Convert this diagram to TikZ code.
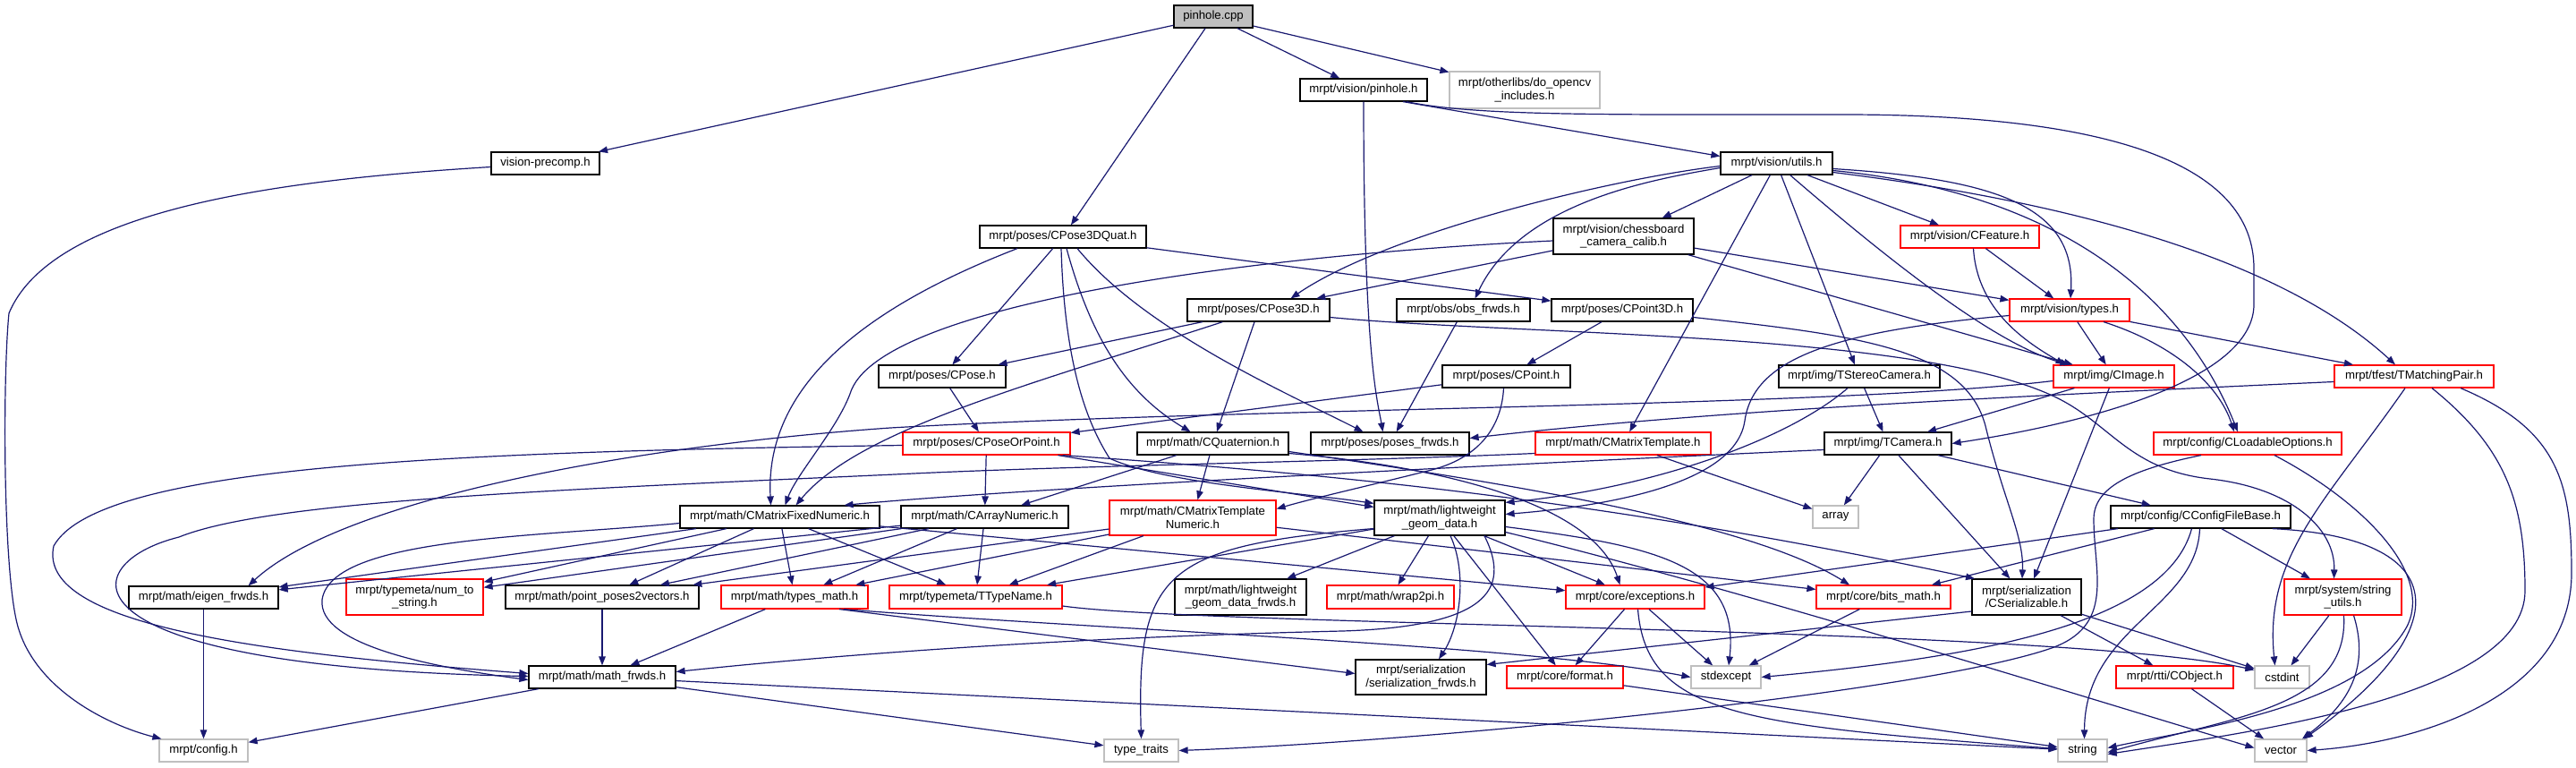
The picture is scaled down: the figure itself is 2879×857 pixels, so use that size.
\documentclass[tikz,border=0pt]{standalone}
\usepackage{fontspec}
\usetikzlibrary{arrows.meta}
\newfontfamily\dfont{Liberation Sans}
\definecolor{edgec}{HTML}{191970}
\definecolor{grayb}{HTML}{BFBFBF}
\definecolor{redb}{HTML}{FF0000}
\tikzset{
 nb/.style={draw=black, line width=1.2pt, inner sep=0pt, minimum height=25pt, fill=white, align=center, text=black,
   font=\dfont\fontsize{13.2}{14.5}\selectfont},
 nr/.style={nb, draw=redb},
 ng/.style={nb, draw=grayb},
 e/.style={draw=edgec, line width=1.2pt, -{Triangle[length=10pt,width=7.5pt]}},
}
\begin{document}
\begin{tikzpicture}[x=1pt,y=-1pt]
\fill[white] (0,0) rectangle (2879,857);
\useasboundingbox (0,0) rectangle (2879,857);
% ---------------- nodes
\node[nb, fill=grayb, minimum width=88pt] (cpp) at (1356,18.5) {pinhole.cpp};
\node[nb, minimum width=142pt] (ph) at (1524,100.5) {mrpt/vision/pinhole.h};
\node[ng, minimum width=168pt, minimum height=41pt] (ocv) at (1704,100.5) {mrpt/otherlibs/do\_opencv\\\_includes.h};
\node[nb, minimum width=121pt] (vp) at (609.5,182.5) {vision-precomp.h};
\node[nb, minimum width=125pt] (ut) at (1985.5,182.5) {mrpt/vision/utils.h};
\node[nb, minimum width=186pt] (p3q) at (1188,264.5) {mrpt/poses/CPose3DQuat.h};
\node[nb, minimum width=157pt, minimum height=40pt] (cb) at (1814.5,264) {mrpt/vision/chessboard\\\_camera\_calib.h};
\node[nr, minimum width=155pt] (cf) at (2201.5,264.5) {mrpt/vision/CFeature.h};
\node[nb, minimum width=159pt] (p3d) at (1406.5,346.5) {mrpt/poses/CPose3D.h};
\node[nb, minimum width=149pt] (obs) at (1635.5,346.5) {mrpt/obs/obs\_frwds.h};
\node[nb, minimum width=158pt] (pt3) at (1813,346.5) {mrpt/poses/CPoint3D.h};
\node[nr, minimum width=134pt] (vt) at (2313,346.5) {mrpt/vision/types.h};
\node[nb, minimum width=142pt] (cpose) at (1053,420.5) {mrpt/poses/CPose.h};
\node[nb, minimum width=143pt] (cpt) at (1683.5,420.5) {mrpt/poses/CPoint.h};
\node[nb, minimum width=180pt] (tsc) at (2078,420.5) {mrpt/img/TStereoCamera.h};
\node[nr, minimum width=135pt] (img) at (2362.5,420.5) {mrpt/img/CImage.h};
\node[nr, minimum width=178pt] (tmp) at (2698,420.5) {mrpt/tfest/TMatchingPair.h};
\node[nr, minimum width=187pt] (cpop) at (1102.5,495.5) {mrpt/poses/CPoseOrPoint.h};
\node[nb, minimum width=169pt] (cq) at (1355.5,495.5) {mrpt/math/CQuaternion.h};
\node[nb, minimum width=177pt] (pf) at (1553.5,495.5) {mrpt/poses/poses\_frwds.h};
\node[nr, minimum width=196pt] (cmt) at (1814,495.5) {mrpt/math/CMatrixTemplate.h};
\node[nb, minimum width=142pt] (tcam) at (2110,495.5) {mrpt/img/TCamera.h};
\node[nr, minimum width=210pt] (clo) at (2512,495.5) {mrpt/config/CLoadableOptions.h};
\node[nb, minimum width=223pt] (cmfn) at (871.5,577.5) {mrpt/math/CMatrixFixedNumeric.h};
\node[nb, minimum width=187pt] (can) at (1100.5,577.5) {mrpt/math/CArrayNumeric.h};
\node[nr, minimum width=186pt, minimum height=39pt] (cmtn) at (1333,578.5) {mrpt/math/CMatrixTemplate\\Numeric.h};
\node[nb, minimum width=146pt, minimum height=39pt] (lgd) at (1609,578.5) {mrpt/math/lightweight\\\_geom\_data.h};
\node[ng, minimum width=51pt] (arr) at (2051.5,577.5) {array};
\node[nb, minimum width=201pt] (ccfb) at (2459.5,577.5) {mrpt/config/CConfigFileBase.h};
\node[nb, minimum width=167pt] (ef) at (227.5,667.5) {mrpt/math/eigen\_frwds.h};
\node[nr, minimum width=153pt, minimum height=40pt] (nts) at (463.5,667) {mrpt/typemeta/num\_to\\\_string.h};
\node[nb, minimum width=216pt, minimum height=26pt] (pp2v) at (673,667) {mrpt/math/point\_poses2vectors.h};
\node[nr, minimum width=164pt, minimum height=26pt] (tm) at (888,667) {mrpt/math/types\_math.h};
\node[nr, minimum width=193pt, minimum height=26pt] (ttn) at (1090.5,667) {mrpt/typemeta/TTypeName.h};
\node[nb, minimum width=147pt, minimum height=40pt] (lgdf) at (1386.5,667) {mrpt/math/lightweight\\\_geom\_data\_frwds.h};
\node[nr, minimum width=142pt, minimum height=26pt] (w2p) at (1554,667) {mrpt/math/wrap2pi.h};
\node[nr, minimum width=155pt, minimum height=26pt] (exc) at (1827.5,667) {mrpt/core/exceptions.h};
\node[nr, minimum width=150pt, minimum height=26pt] (bm) at (2105,667) {mrpt/core/bits\_math.h};
\node[nb, minimum width=122pt, minimum height=40pt] (cs) at (2265,667) {mrpt/serialization\\/CSerializable.h};
\node[nr, minimum width=131pt, minimum height=40pt] (su) at (2618.5,667) {mrpt/system/string\\\_utils.h};
\node[nb, minimum width=164pt] (mf) at (673,756.5) {mrpt/math/math\_frwds.h};
\node[nb, minimum width=146pt, minimum height=39pt] (sf) at (1588,756.5) {mrpt/serialization\\/serialization\_frwds.h};
\node[ng, minimum width=78pt] (se) at (1929,756.5) {stdexcept};
\node[nr, minimum width=130pt] (fmt) at (1749,756.5) {mrpt/core/format.h};
\node[nr, minimum width=131pt] (cobj) at (2430.5,756.5) {mrpt/rtti/CObject.h};
\node[ng, minimum width=61pt] (ci) at (2550.5,756.5) {cstdint};
\node[ng, minimum width=99pt] (cfg) at (227.5,838.5) {mrpt/config.h};
\node[ng, minimum width=83pt] (tt) at (1275.5,838.5) {type\_traits};
\node[ng, minimum width=55pt] (str) at (2327.5,838.5) {string};
\node[ng, minimum width=58pt] (vec) at (2549,838.5) {vector};
% ---------------- edges
\draw[e] (cpp) -- (vp);
\draw[e] (cpp) -- (p3q);
\draw[e] (cpp) -- (ph);
\draw[e] (cpp) -- (ocv);
\draw[e] ([yshift=-4pt]vp.west) .. controls (330,200) and (60,230) .. (10,350) .. controls (3,420) and (3,640) .. (20,700) .. controls (40,770) and (120,810) .. ([xshift=3pt]cfg.north west);
\draw[e] ([xshift=44pt]ph.south) -- ([yshift=8pt]ut.west);
\draw[e] (ph.south) .. controls (1524,400) and (1540,450) .. ([xshift=-8pt]pf.north);
\draw[e] ([xshift=48pt]ph.south) .. controls (1650,130) and (1800,128) .. (2061,128) .. controls (2350,128) and (2519,180) .. (2519,300) -- (2519,340) .. controls (2519,420) and (2350,470) .. (tcam.east);
% p3q
\draw[e] ([xshift=-51pt]p3q.south) .. controls (950,350) and (855,440) .. ([xshift=-10pt]cmfn.north);
\draw[e] (p3q) -- (cpose);
\draw[e] ([xshift=-2pt]p3q.south) .. controls (1190,420) and (1220,480) .. (1240,512) .. controls (1300,540) and (1450,550) .. ([yshift=-4pt]lgd.north west);
\draw[e] ([xshift=4pt]p3q.south) .. controls (1220,380) and (1260,440) .. ([xshift=-25pt]cq.north);
\draw[e] ([xshift=16pt]p3q.south) .. controls (1280,370) and (1440,440) .. ([xshift=-30pt]pf.north);
\draw[e] (p3q) -- (pt3);
% ut
\draw[e] (ut) -- (cb);
\draw[e] (ut) -- (cf);
\draw[e] ([yshift=-6pt]ut.east) .. controls (2230,200) and (2320,230) .. ([xshift=1pt]vt.north);
\draw[e] ([yshift=-3pt]ut.west) .. controls (1800,200) and (1550,260) .. ([xshift=36pt]p3d.north);
\draw[e] ([yshift=-5pt]ut.west) .. controls (1850,200) and (1700,225) .. ([xshift=13pt]obs.north);
\draw[e] (ut) -- (tsc);
\draw[e] (ut) -- (cmt);
\draw[e] (ut) .. controls (2110,290) and (2230,385) .. ([xshift=-50pt]img.north);
\draw[e] ([yshift=-8pt]ut.east) .. controls (2300,215) and (2440,330) .. ([xshift=-11pt]clo.north);
\draw[e] ([yshift=-10pt]ut.east) .. controls (2350,230) and (2560,300) .. ([xshift=-21pt]tmp.north);
% cb
\draw[e] (cb) -- (p3d);
\draw[e] ([yshift=-5pt]cb.west) .. controls (1400,285) and (980,340) .. (950,440) .. controls (935,480) and (890,530) .. ([xshift=6pt]cmfn.north);
\draw[e] (cb) -- (img);
\draw[e] (cb) -- (vt);
% cf
\draw[e] (cf) -- (vt);
\draw[e] ([xshift=4pt]cf.south) .. controls (2210,350) and (2270,385) .. ([xshift=-55pt]img.north);
% vt
\draw[e] (vt) -- (img);
\draw[e] ([xshift=38pt]vt.south) .. controls (2430,385) and (2480,430) .. ([xshift=-15pt]clo.north);
\draw[e] (vt) -- (tmp);
\draw[e] ([yshift=-6pt]vt.west) .. controls (2050,370) and (1960,400) .. (1950,470) .. controls (1940,540) and (1800,565) .. ([yshift=4pt]lgd.east);
% obs, pt3
\draw[e] (obs) -- (pf);
\draw[e] (pt3) -- (cpt);
\draw[e] ([yshift=-8pt]pt3.east) .. controls (2080,375) and (2200,390) .. (2220,480) .. controls (2240,560) and (2262,600) .. ([xshift=-5pt]cs.north);
% p3d
\draw[e] (p3d) -- (cpose);
\draw[e] (p3d) -- (cq);
\draw[e] ([xshift=-40pt]p3d.south) .. controls (1150,430) and (960,480) .. ([xshift=18pt]cmfn.north);
\draw[e] ([yshift=-8pt]p3d.east) .. controls (1700,375) and (2150,370) .. (2300,445) .. controls (2360,475) and (2380,525) .. (2470,535) .. controls (2560,545) and (2610,590) .. ([xshift=-10pt]su.north);
% cpose, cpt, tsc
\draw[e] (cpose) -- (cpop);
\draw[e] (cpt) -- (cpop);
\draw[e] ([xshift=-3pt]cpt.south) .. controls (1678,480) and (1650,512) .. (1600,525) .. controls (1520,545) and (1470,556) .. ([yshift=10pt]cmtn.east);
\draw[e] (tsc) -- (tcam);
\draw[e] ([xshift=-13pt]tsc.south) .. controls (2000,490) and (1850,545) .. ([yshift=-3pt]lgd.north east);
% img
\draw[e] (img) -- (tcam);
\draw[e] (img) -- (cs);
\draw[e] ([yshift=-5pt]img.west) .. controls (2050,455) and (1400,455) .. (995,478) .. controls (695,499) and (380,560) .. ([xshift=50pt]ef.north);
% tmp
\draw[e] ([yshift=-6pt]tmp.west) .. controls (2200,445) and (1900,460) .. ([yshift=6pt]pf.east);
\draw[e] ([xshift=-10pt]tmp.south) .. controls (2600,560) and (2530,620) .. ([xshift=-8pt]ci.north);
\draw[e] ([xshift=20pt]tmp.south) .. controls (2800,500) and (2822,560) .. (2822,660) .. controls (2822,780) and (2500,820) .. ([yshift=-4pt]str.east);
\draw[e] ([xshift=52pt]tmp.south) .. controls (2860,480) and (2874,540) .. (2874,640) .. controls (2874,780) and (2700,830) .. (vec.east);
% cpop
\draw[e] (cpop) -- (lgd);
\draw[e] (cpop) -- (can);
\draw[e] ([yshift=-2pt]cpop.west) .. controls (500,505) and (110,520) .. (60,610) .. controls (40,700) and (300,730) .. ([yshift=4pt]mf.west);
\draw[e] ([xshift=85pt]cpop.south) .. controls (1500,530) and (1800,560) .. ([xshift=-58pt]cs.north);
% cq
\draw[e] (cq) -- (cmtn);
\draw[e] (cq) -- (can);
\draw[e] ([yshift=-11pt]cq.east) .. controls (1600,520) and (1780,560) .. ([xshift=-17pt]exc.north);
\draw[e] ([yshift=-9pt]cq.east) .. controls (1650,535) and (1950,580) .. ([xshift=-38pt]bm.north);
% cmt
\draw[e] (cmt) -- (arr);
\draw[e] ([yshift=-11pt]cmt.west) .. controls (1500,516) and (1200,520) .. (1000,530) .. controls (600,548) and (300,560) .. (200,600) .. controls (80,630) and (60,745) .. ([yshift=1pt]mf.west);
% tcam
\draw[e] (tcam) -- (ccfb);
\draw[e] ([yshift=-7pt]tcam.west) .. controls (1700,518) and (1150,545) .. ([xshift=72pt]cmfn.north);
\draw[e] (tcam) -- (cs);
\draw[e] (tcam) -- (arr);
% clo
\draw[e] ([xshift=-52pt]clo.south) .. controls (2380,525) and (2340,545) .. (2340,580) .. controls (2340,640) and (2365,700) .. (2290,725) .. controls (2140,775) and (1600,828) .. (tt.east);
\draw[e] ([xshift=30pt]clo.south) .. controls (2640,560) and (2720,640) .. (2690,700) .. controls (2640,790) and (2450,815) .. ([yshift=3pt]str.east);
% cmfn
\draw[e] (cmfn) -- (ef);
\draw[e] (cmfn) -- (nts);
\draw[e] (cmfn) -- (pp2v);
\draw[e] (cmfn) -- (tm);
\draw[e] (cmfn) -- (ttn);
\draw[e] (cmfn) -- (exc);
\draw[e] ([yshift=-7pt]cmfn.west) .. controls (600,600) and (370,600) .. (360,670) .. controls (355,720) and (480,745) .. ([yshift=-3pt]mf.west);
% can
\draw[e] (can) -- (ef);
\draw[e] (can) -- (nts);
\draw[e] (can) -- (pp2v);
\draw[e] (can) -- (tm);
\draw[e] (can) -- (ttn);
% cmtn
\draw[e] (cmtn) -- (ttn);
\draw[e] (cmtn) -- (tm);
\draw[e] (cmtn) -- (pp2v);
\draw[e] (cmtn) -- (bm);
% lgd
\draw[e] (lgd) -- (exc);
\draw[e] (lgd) -- (fmt);
\draw[e] ([yshift=-10pt]lgd.east) .. controls (1850,610) and (1945,630) .. ([xshift=3pt]se.north);
\draw[e] (lgd) -- (lgdf);
\draw[e] ([xshift=50pt]lgd.south) .. controls (1690,660) and (1660,700) .. (1500,705) .. controls (1200,712) and (950,730) .. ([yshift=6pt]mf.east);
\draw[e] (lgd) -- (w2p);
\draw[e] ([xshift=12pt]lgd.south) .. controls (1640,640) and (1632,700) .. ([xshift=20pt]sf.north);
\draw[e] (lgd) -- (ttn);
\draw[e] ([yshift=-12pt]lgd.west) .. controls (1300,610) and (1270,640) .. (tt.north);
\draw[e] ([yshift=-16pt]lgd.east) .. controls (1950,660) and (2300,770) .. ([yshift=3pt]vec.west);
% tm, ttn, pp2v
\draw[e] (tm) -- (mf);
\draw[e] ([xshift=50pt]tm.south) -- ([yshift=4pt]sf.west);
\draw[e] ([xshift=55pt]tm.south) .. controls (1250,705) and (1700,720) .. (se.west);
\draw[e] ([yshift=-10pt]ttn.east) .. controls (1350,700) and (2300,700) .. ([yshift=8pt]ci.west);
\draw[e] (pp2v) -- (mf);
% ef, mf
\draw[e] (ef) -- (cfg);
\draw[e] (mf) -- (cfg);
\draw[e] (mf) -- (tt);
\draw[e] (mf) -- (str);
% exc, bm, fmt
\draw[e] (exc) -- (fmt);
\draw[e] (exc) -- (se);
\draw[e] ([xshift=3pt]exc.south) .. controls (1840,800) and (1950,810) .. ([yshift=2pt]str.west);
\draw[e] (bm) -- (se);
\draw[e] (fmt) -- (str);
% cs, cobj, su
\draw[e] (cs) -- (cobj);
\draw[e] (cs) -- (ci);
\draw[e] ([yshift=-16pt]cs.west) -- ([yshift=14pt]sf.east);
\draw[e] (cobj) -- (vec);
\draw[e] (su) -- (ci);
\draw[e] ([xshift=1pt]su.south) .. controls (2625,790) and (2500,800) .. ([yshift=-2pt]str.east);
\draw[e] ([xshift=12pt]su.south) .. controls (2650,750) and (2620,790) .. ([xshift=24pt]vec.north);
% ccfb
\draw[e] (ccfb) -- (exc);
\draw[e] (ccfb) -- (bm);
\draw[e] (ccfb) -- (su);
\draw[e] ([xshift=-1pt]ccfb.south) .. controls (2455,680) and (2330,700) .. ([xshift=2pt]str.north);
\draw[e] ([xshift=80pt]ccfb.south) .. controls (2740,600) and (2750,700) .. ([xshift=26pt]vec.north);
\draw[e] ([xshift=-10pt]ccfb.south) .. controls (2420,700) and (2200,735) .. (se.east);
\end{tikzpicture}
\end{document}
